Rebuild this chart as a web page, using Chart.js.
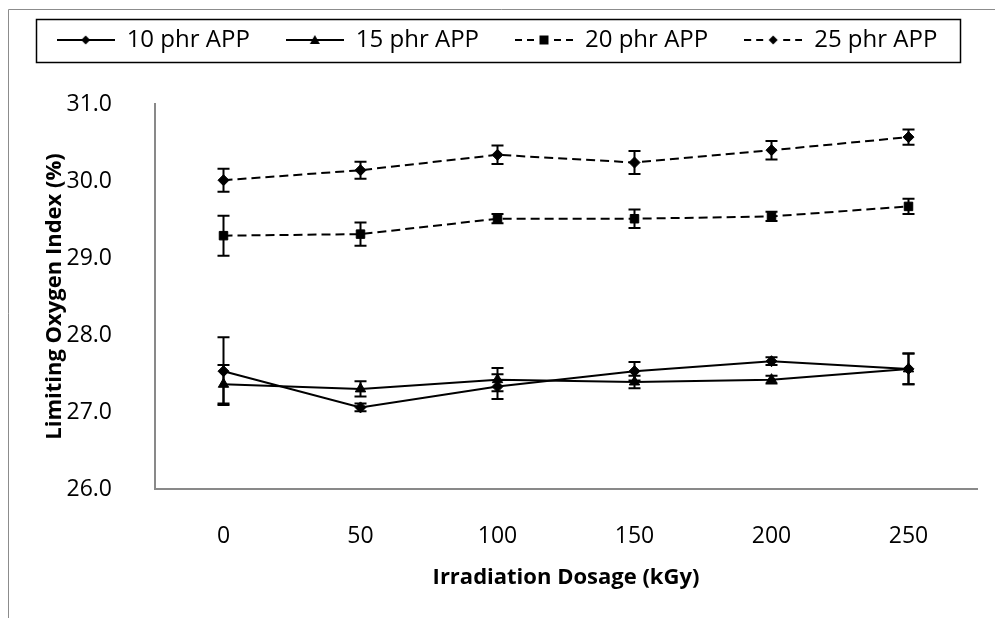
<!DOCTYPE html>
<html>
<head>
<meta charset="utf-8">
<script src="https://cdn.jsdelivr.net/npm/chart.js@4.4.1/dist/chart.umd.min.js"></script>
<style>
  html, body { margin: 0; padding: 0; background: #fff; }
  #wrap { width: 995px; height: 618px; }
</style>
</head>
<body>
<div id="wrap"><canvas id="canv" width="995" height="618"></canvas></div>
<script>
// irradiation dose (kGy)
const doseLabels = ['0', '50', '100', '150', '200', '250'];
const seriesNames = ['10 phr APP', '15 phr APP', '20 phr APP', '25 phr APP'];

// LOI values, with the error bar half-heights
const app10 = [27.53, 27.06, 27.33, 27.53, 27.66, 27.56];
const app10Err = [0.44, 0.05, 0.16, 0.12, 0.05, 0.20];
const app15 = [27.36, 27.30, 27.42, 27.39, 27.42, 27.56];
const app15Err = [0.25, 0.10, 0.15, 0.08, 0.05, 0.20];
const app20 = [29.29, 29.31, 29.51, 29.51, 29.54, 29.67];
const app20Err = [0.26, 0.15, 0.06, 0.12, 0.06, 0.10];
const app25 = [30.01, 30.14, 30.34, 30.24, 30.40, 30.57];
const app25Err = [0.15, 0.11, 0.12, 0.15, 0.12, 0.10];

const yMin = 26, yMax = 31, yStep = 1;

const AXIS_GREY = '#898989';
const FONT = '"Open Sans", Lato, "Noto Sans", sans-serif';
const ICON_W = 58;
const LEGEND_PAD = 36;

Chart.defaults.font.family = FONT;
Chart.defaults.color = '#000';

// little line+marker pictures for the legend
function legendIcon(style, dashed) {
    const c = document.createElement('canvas');
    c.width = ICON_W; c.height = 16;
    const g = c.getContext('2d');
    const m = ICON_W / 2;
    g.strokeStyle = '#000';
    g.fillStyle = '#000';
    g.lineWidth = 2;
    g.beginPath();
    if (dashed) {
        [[0, 7], [12, 19], [ICON_W - 19, ICON_W - 12], [ICON_W - 7, ICON_W]].forEach(s => {
            g.moveTo(s[0], 8); g.lineTo(s[1], 8);
        });
    } else {
        g.moveTo(0, 8); g.lineTo(ICON_W, 8);
    }
    g.stroke();
    g.beginPath();
    if (style === 'diamond') {
        g.moveTo(m, 3.5); g.lineTo(m + 4.5, 8); g.lineTo(m, 12.5); g.lineTo(m - 4.5, 8);
    } else if (style === 'triangle') {
        g.moveTo(m, 3); g.lineTo(m + 5, 12); g.lineTo(m - 5, 12);
    } else {
        g.rect(m - 4.5, 3.5, 9, 9);
    }
    g.closePath();
    g.fill();
    return c;
}
const legendIcons = [
    legendIcon('diamond', false),
    legendIcon('triangle', false),
    legendIcon('square', true),
    legendIcon('diamond', true)
];

function makeSet(i, data, errors, pointStyle, radius, dashed) {
    return {
        label: seriesNames[i],
        data: data,
        errors: errors,
        borderColor: '#000',
        backgroundColor: '#000',
        borderWidth: 2,
        borderDash: dashed ? [9, 5] : [],
        pointStyle: pointStyle,
        pointRadius: radius,
        pointHoverRadius: radius,
        pointBorderWidth: 1,
        tension: 0,
        fill: false
    };
}

const errorBars = {
    id: 'errorBars',
    afterDatasetsDraw(chart) {
        const ctx = chart.ctx;
        const y = chart.scales.y;
        ctx.save();
        ctx.strokeStyle = '#000';
        ctx.lineWidth = 2;
        ctx.setLineDash([]);
        chart.data.datasets.forEach((ds, i) => {
            const meta = chart.getDatasetMeta(i);
            meta.data.forEach((pt, j) => {
                const v = ds.data[j], e = ds.errors[j];
                const top = y.getPixelForValue(v + e);
                const bot = y.getPixelForValue(v - e);
                const x = pt.x;
                ctx.beginPath();
                ctx.moveTo(x, top); ctx.lineTo(x, bot);
                ctx.moveTo(x - 6, top); ctx.lineTo(x + 6, top);
                ctx.moveTo(x - 6, bot); ctx.lineTo(x + 6, bot);
                ctx.stroke();
            });
        });
        ctx.restore();
    }
};

// grey frame round the figure and the box round the legend
const frame = {
    id: 'frame',
    beforeUpdate(chart) {
        const lg = chart.legend;
        if (lg && !lg._tall) {
            const fit = lg.fit;
            lg.fit = function () {
                fit.call(this);
                this.height = 112; // room between the legend and the plot
            };
            lg._tall = true;
        }
    },
    beforeDraw(chart) {
        const ctx = chart.ctx;
        ctx.save();
        ctx.strokeStyle = '#8c8c8c';
        ctx.lineWidth = 1;
        ctx.beginPath();
        ctx.moveTo(8.5, 618); ctx.lineTo(8.5, 9.5); ctx.lineTo(995, 9.5);
        ctx.stroke();
        ctx.restore();
    },
    afterDraw(chart) {
        const hb = chart.legend.legendHitBoxes;
        if (!hb || !hb.length) return;
        const left = Math.min(...hb.map(h => h.left)) - 21;
        const right = Math.max(...hb.map(h => h.left + h.width)) + 22;
        const mid = hb[0].top + hb[0].height / 2;
        const ctx = chart.ctx;
        ctx.save();
        ctx.strokeStyle = '#000';
        ctx.lineWidth = 1.5;
        ctx.strokeRect(Math.round(left) + 0.5, Math.round(mid - 21.5) + 0.5,
            Math.round(right - left), 43);
        ctx.restore();
    }
};

new Chart(document.getElementById('canv').getContext('2d'), {
    type: 'line',
    data: {
        labels: doseLabels,
        datasets: [
            makeSet(0, app10, app10Err, 'rectRot', 5.5, false),
            makeSet(1, app15, app15Err, 'triangle', 6, false),
            makeSet(2, app20, app20Err, 'rect', 6, true),
            makeSet(3, app25, app25Err, 'rectRot', 5.5, true)
        ]
    },
    options: {
        responsive: false,
        animation: false,
        layout: { padding: { top: -8, left: 17, right: 18, bottom: 0 } },
        plugins: {
            tooltip: { enabled: false },
            legend: {
                position: 'top',
                labels: {
                    font: { size: 24, family: FONT },
                    color: '#000',
                    usePointStyle: true,
                    pointStyleWidth: ICON_W,
                    padding: LEGEND_PAD,
                    generateLabels(chart) {
                        const items = Chart.defaults.plugins.legend.labels.generateLabels(chart);
                        items.forEach((it, i) => { it.pointStyle = legendIcons[i]; });
                        return items;
                    }
                }
            }
        },
        scales: {
            x: {
                type: 'category',
                offset: true,
                grid: { display: false, drawTicks: false, tickLength: 0 },
                border: { display: true, color: AXIS_GREY, width: 2 },
                ticks: { font: { size: 23 }, color: '#000', padding: 34, maxRotation: 0 },
                title: {
                    display: true,
                    text: 'Irradiation Dosage (kGy)',
                    font: { size: 22, weight: 'bold' },
                    color: '#000',
                    padding: { top: 0, bottom: 27 }
                },
                afterFit(scale) { scale.height = 129; }
            },
            y: {
                min: yMin,
                max: yMax,
                grid: { display: false, drawTicks: false, tickLength: 0 },
                border: { display: true, color: AXIS_GREY, width: 2 },
                ticks: {
                    stepSize: yStep,
                    font: { size: 23 },
                    color: '#000',
                    padding: 43,
                    callback: v => Number(v).toFixed(1)
                },
                title: {
                    display: true,
                    text: 'Limiting Oxygen Index (%)',
                    font: { size: 22, weight: 'bold' },
                    color: '#000',
                    padding: { top: 25, bottom: 0 }
                },
                afterFit(scale) { scale.width = 138; }
            }
        }
    },
    plugins: [errorBars, frame]
});
</script>
</body>
</html>
